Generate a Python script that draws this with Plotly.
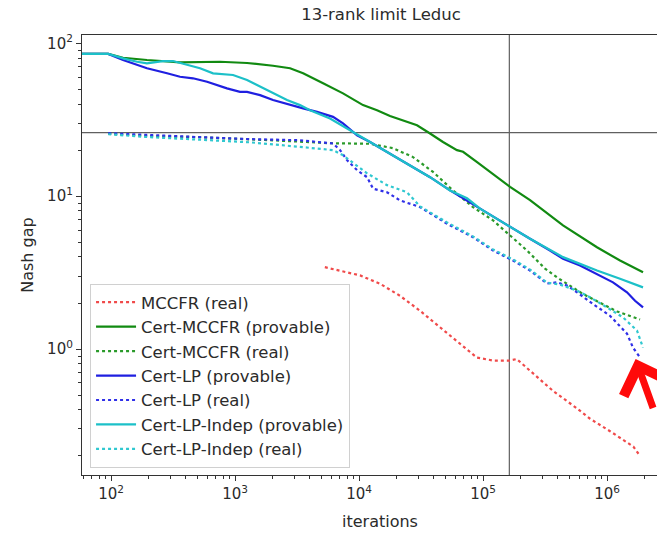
import math
import plotly.graph_objects as go

# ---------------- data ----------------
mccfr_real_x = [5300, 10200, 14800, 21400, 31000, 45000, 65300, 89000, 121000, 163000,
                187000, 255000, 369000, 570000, 730000, 1057000, 1630000, 1845000]
mccfr_real_y = [3.43, 3.03, 2.67, 2.23, 1.78, 1.39, 1.08, 0.88, 0.84, 0.84,
                0.86, 0.69, 0.53, 0.41, 0.35, 0.29, 0.23, 0.20]

cert_mccfr_prov_x = [58, 95, 125, 195, 360, 757, 1250, 2025, 2780, 3540, 5130, 7430, 10770,
                     13970, 17780, 24380, 29370, 37400, 47550, 61660, 69020, 89540, 113800,
                     165200, 239400, 441600, 829800, 1273000, 1951000]
cert_mccfr_prov_y = [85.1, 85.1, 80.4, 77.7, 75.0, 75.7, 74.3, 71.3, 68.6, 63.6, 54.7, 47.0, 39.4,
                     36.5, 33.4, 30.6, 29.1, 25.7, 22.6, 20.0, 19.5, 16.7, 14.4,
                     11.5, 9.41, 6.44, 4.63, 3.79, 3.18]

cert_mccfr_real_x = [95, 206, 522, 1321, 2777, 5837, 12270, 18800, 27250, 39530, 57290, 82990,
                     120500, 165200, 226300, 316200, 395300, 640100, 1205000, 1846000]
cert_mccfr_real_y = [25.6, 24.7, 24.3, 23.6, 22.9, 22.2, 22.0, 20.6, 18.0, 14.4, 10.9, 8.48,
                     6.94, 5.53, 4.41, 3.36, 2.94, 2.29, 1.76, 1.56]

cert_lp_prov_x = [58, 95, 125, 195, 283, 360, 458, 595, 861, 1097, 1250, 1592, 2025, 2780, 3540,
                  4585, 6170, 7430, 9640, 12270, 17780, 25770, 37400, 54200, 94600, 165200,
                  239400, 346800, 441600, 605600, 829800, 1117000, 1449000, 1682000, 1951000]
cert_lp_prov_y = [85.1, 85.1, 77.7, 68.6, 63.6, 60.4, 59.0, 56.0, 50.7, 48.1, 48.1, 45.8, 42.5,
                  39.4, 37.5, 35.6, 33.0, 29.9, 25.0, 22.6, 19.0, 15.9, 13.3, 10.9, 8.28, 6.27,
                  5.26, 4.41, 3.89, 3.52, 3.10, 2.73, 2.35, 2.07, 1.87]

cert_lp_real_x = [95, 206, 522, 1321, 3342, 6170, 7030, 8000, 9640, 11610, 12970, 16820, 21410,
                  31050, 51290, 82990, 120500, 174600, 239400, 328100, 395300, 475700, 572900,
                  771000, 1057000, 1449000, 1621000, 1846000]
cert_lp_real_y = [25.8, 25.0, 24.3, 23.6, 23.2, 22.1, 20.0, 17.2, 14.8, 13.3, 11.2, 10.6, 9.38,
                  8.48, 6.60, 5.39, 4.41, 3.79, 3.26, 2.68, 2.73, 2.60, 2.35,
                  1.97, 1.65, 1.26, 1.02, 0.881]

cert_lpi_prov_x = [58, 95, 125, 162, 195, 262, 316, 410, 522, 665, 800, 964, 1250, 1592, 2025,
                   2626, 3342, 4027, 5837, 8460, 12270, 17780, 25770, 37400, 54200, 74300, 94600,
                   165200, 239400, 441600, 829800, 1273000, 1951000]
cert_lpi_prov_y = [85.1, 85.1, 79.7, 75.7, 73.9, 76.5, 76.5, 72.1, 68.6, 63.6, 62.6, 62.0, 57.5,
                   51.9, 47.0, 42.5, 39.4, 36.5, 32.2, 27.0, 22.6, 19.0, 15.9, 13.3, 10.9, 9.68,
                   8.28, 6.27, 5.26, 3.99, 3.26, 2.88, 2.53]

cert_lpi_real_x = [95, 206, 522, 1321, 3342, 6170, 7430, 11610, 16820, 24380, 31050, 51290, 82990,
                   120500, 174600, 239400, 328100, 417800, 572900, 729400, 1000000, 1346000,
                   1745000, 1951000]
cert_lpi_real_y = [25.4, 24.3, 23.4, 22.5, 21.0, 20.0, 18.5, 14.1, 11.8, 10.6, 8.57, 6.73, 5.45,
                   4.48, 3.85, 3.31, 2.72, 2.64, 2.41, 2.18, 1.87, 1.61, 1.32, 1.02]

ref_iteration = 163000   # vertical reference line
ref_gap = 26.0           # horizontal reference line
arrow_x, arrow_y = 1700000, 0.86   # point the red arrow marks

x_major = [100, 1000, 10000, 100000, 1000000]
x_major_text = ["10<sup>2</sup>", "10<sup>3</sup>", "10<sup>4</sup>", "10<sup>5</sup>", "10<sup>6</sup>"]
y_major = [1, 10, 100]
y_major_text = ["10<sup>0</sup>", "10<sup>1</sup>", "10<sup>2</sup>"]

x_minor = [m * 10 ** e for e in range(1, 7) for m in range(2, 10)]
y_minor = [m * 10 ** e for e in range(-1, 2) for m in range(2, 10)]

# ---------------- figure ----------------
FONT = "DejaVu Sans"
TXT = "#2b2b2b"

series = [
    ("MCCFR (real)", mccfr_real_x, mccfr_real_y, "#f04a4a", "dot"),
    ("Cert-MCCFR (provable)", cert_mccfr_prov_x, cert_mccfr_prov_y, "#118a11", "solid"),
    ("Cert-MCCFR (real)", cert_mccfr_real_x, cert_mccfr_real_y, "#2a9a2a", "dot"),
    ("Cert-LP (provable)", cert_lp_prov_x, cert_lp_prov_y, "#1f1fe0", "solid"),
    ("Cert-LP (real)", cert_lp_real_x, cert_lp_real_y, "#3030e8", "dot"),
    ("Cert-LP-Indep (provable)", cert_lpi_prov_x, cert_lpi_prov_y, "#1cc0c8", "solid"),
    ("Cert-LP-Indep (real)", cert_lpi_real_x, cert_lpi_real_y, "#30c8d0", "dot"),
]

fig = go.Figure()
for name, xs, ys, col, dash in series:
    fig.add_trace(go.Scatter(
        x=xs, y=ys, name=name, mode="lines",
        line=dict(color=col, width=2.2, dash=dash),
    ))

fig.add_shape(type="line", xref="x", yref="paper", x0=ref_iteration, x1=ref_iteration,
              y0=0, y1=1, line=dict(color="#606060", width=1.2), layer="below")
fig.add_shape(type="line", xref="paper", yref="y", x0=0, x1=1, y0=ref_gap, y1=ref_gap,
              line=dict(color="#606060", width=1.2), layer="below")

# annotations on log axes take log10 positions
fig.add_annotation(x=math.log10(arrow_x), y=math.log10(arrow_y), xref="x", yref="y",
                   text=" ", showarrow=True, ax=60, ay=60, arrowhead=4, arrowsize=1.3,
                   arrowwidth=7, arrowcolor="#ff0a0a", standoff=0)

fig.add_annotation(text="iterations", xref="paper", yref="paper", x=0.518, y=-0.105,
                   showarrow=False, font=dict(family=FONT, size=16, color=TXT),
                   xanchor="center", yanchor="middle")
fig.add_annotation(text="Nash gap", xref="paper", yref="paper", x=-0.096, y=0.5,
                   textangle=-90, showarrow=False, font=dict(family=FONT, size=16, color=TXT),
                   xanchor="center", yanchor="middle")

fig.update_layout(
    width=657, height=533,
    margin=dict(l=82, r=0, t=35, b=58),
    paper_bgcolor="white", plot_bgcolor="white",
    font=dict(family=FONT, size=16, color=TXT),
    title=dict(text="13-rank limit Leduc", x=381 / 657, xref="container", xanchor="center",
               y=1 - 14 / 533, yref="container", yanchor="middle",
               font=dict(family=FONT, size=16.5, color=TXT)),
    showlegend=True,
    legend=dict(x=0.014, y=0.016, xanchor="left", yanchor="bottom",
                bgcolor="rgba(255,255,255,0.85)", bordercolor="#d0d0d0", borderwidth=1,
                font=dict(family=FONT, size=16.5, color=TXT), itemwidth=40,
                tracegroupgap=0),
)

fig.update_xaxes(
    type="log", range=[1.766, 6.403],
    showgrid=False, zeroline=False,
    showline=True, linecolor="#333333", linewidth=1.2, mirror=True,
    tickmode="array", tickvals=x_major, ticktext=x_major_text,
    ticks="outside", ticklen=5, tickwidth=1, tickcolor="#333333",
    minor=dict(tickmode="array", tickvals=x_minor, ticks="outside", ticklen=3,
               tickwidth=1, tickcolor="#333333", showgrid=False),
    tickfont=dict(family=FONT, size=15, color=TXT),
)
fig.update_yaxes(
    type="log", range=[-0.824, 2.054],
    showgrid=False, zeroline=False,
    showline=True, linecolor="#333333", linewidth=1.2, mirror=False,
    tickmode="array", tickvals=y_major, ticktext=y_major_text,
    ticks="outside", ticklen=5, tickwidth=1, tickcolor="#333333",
    minor=dict(tickmode="array", tickvals=y_minor, ticks="outside", ticklen=3,
               tickwidth=1, tickcolor="#333333", showgrid=False),
    tickfont=dict(family=FONT, size=15, color=TXT),
)

fig.write_html("out.html", config={"displayModeBar": False},
               post_script="document.body.style.margin='0';document.body.style.overflow='hidden';")
